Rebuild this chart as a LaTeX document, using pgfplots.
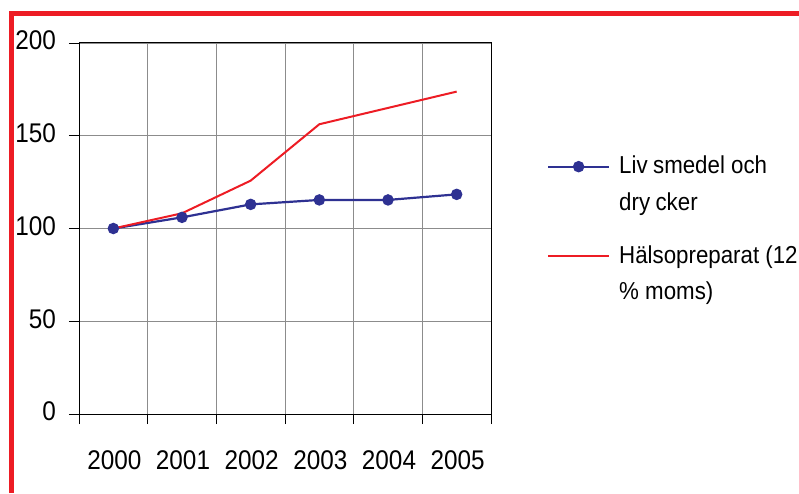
\documentclass[border=0pt]{standalone}
\usepackage{pgfplots}
\pgfplotsset{compat=1.18}
\usepackage{fontspec}
\setmainfont{Liberation Sans}
\newfontfamily\tickfont[FakeStretch=0.9]{Liberation Sans}
\newfontfamily\legfont[FakeStretch=0.91]{Liberation Sans}
\definecolor{myred}{RGB}{237,28,36}
\definecolor{myblue}{RGB}{46,49,146}
\definecolor{gridgray}{RGB}{140,140,140}
\begin{document}
\begin{tikzpicture}[x=1pt,y=1pt]
\path[use as bounding box] (0,0) rectangle (799,493);
\draw[myred, line width=4.7pt, line join=miter] (11.5,0) -- (11.5,479.7) -- (799,479.7);
\begin{axis}[
  at={(79pt,79pt)}, anchor=south west,
  scale only axis, width=412pt, height=371pt,
  xmin=-0.5, xmax=5.5, ymin=0, ymax=200,
  xtick={0,1,2,3,4,5},
  xticklabels={2000,2001,2002,2003,2004,2005},
  minor xtick={-0.5,0.5,1.5,2.5,3.5,4.5,5.5},
  major x tick style={draw=none},
  xminorgrids, ymajorgrids,
  ytick={0,50,100,150,200},
  tick align=outside, tick pos=left,
  major tick length=10pt, minor tick length=10pt,
  every tick/.style={black, line width=0.9pt},
  minor grid style={gridgray, line width=0.9pt},
  major grid style={gridgray, line width=0.9pt},
  axis line style={black, line width=1pt},
  /pgf/number format/assume math mode=true,
  ticklabel style={font=\tickfont\fontsize{27}{32}\selectfont},
  yticklabel style={anchor=east, inner sep=0pt, xshift=-13pt, yshift=2.5pt},
  xticklabel style={anchor=north, inner sep=0pt, yshift=-26pt, xshift=1pt},
  legend style={draw=none, fill=none, at={(1.136,0.696)}, anchor=north west,
    inner sep=0pt, outer sep=0pt, row sep=34pt, column sep=9pt,
    nodes={inner sep=0pt, align=left, font=\legfont\fontsize{24.5}{36.5}\selectfont}},
  legend cell align=left,
  legend image code/.code={\draw[yshift=17pt, mark repeat=2,mark phase=2] plot coordinates {(0pt,0pt) (30.5pt,0pt) (61pt,0pt)};},
]
\addplot[myblue, line width=2.2pt, mark=*, mark size=4.6pt, mark options={fill=myblue, draw=myblue}]
  coordinates {(0,100) (1,106) (2,113) (3,115.4) (4,115.4) (5,118.4)};
\addlegendentry{Liv\hspace{0.22em}smedel och\\dry\hspace{0.22em}cker}
\addplot[myred, line width=2pt, mark=none]
  coordinates {(0,100) (1,108.2) (2,125.8) (3,156.2) (4,165) (5,173.8)};
\addlegendentry{Hälsopreparat (12\\\% moms)}
\end{axis}
\end{tikzpicture}
\end{document}
